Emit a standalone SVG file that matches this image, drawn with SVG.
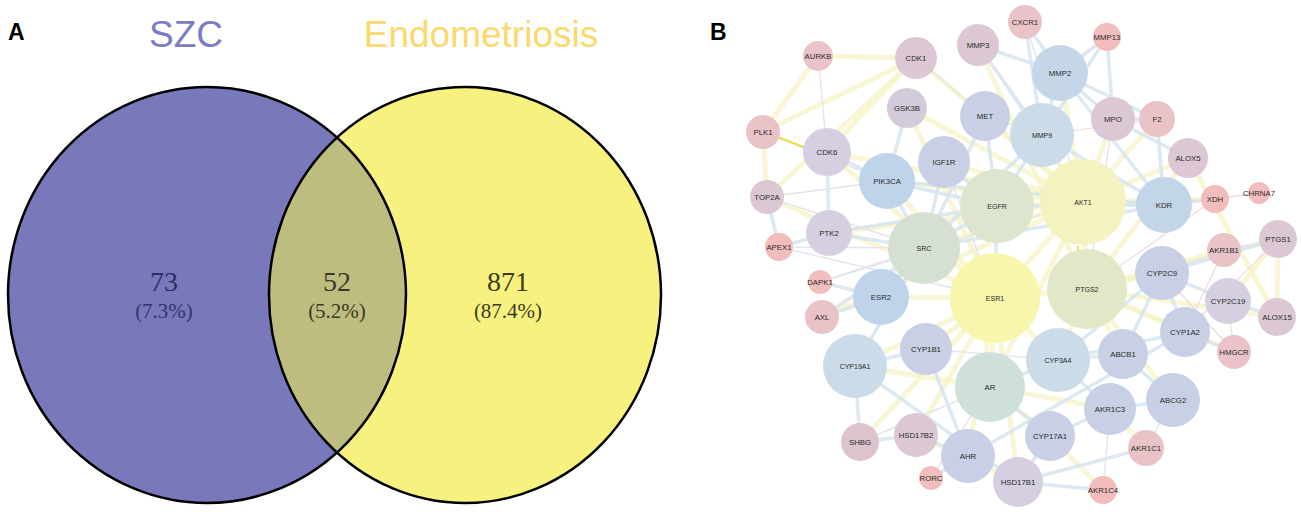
<svg xmlns="http://www.w3.org/2000/svg" width="1301" height="512" viewBox="0 0 1301 512">
<style>
.pl{font-family:"Liberation Sans",Arial,sans-serif;font-weight:bold;font-size:23px;fill:#000}
.ttl{font-family:"Liberation Sans",Arial,sans-serif;font-size:37px}
.num{font-family:"Liberation Serif","Times New Roman",serif;font-size:28px;text-anchor:middle}
.pct{font-family:"Liberation Serif","Times New Roman",serif;font-size:21px;text-anchor:middle}
.ey{stroke:#f6f3c6;stroke-width:5;opacity:.75;fill:none}
.eb{stroke:#d3e3f0;stroke-width:3.5;opacity:.8;fill:none}
.eg{stroke:#e4e4ec;stroke-width:1.4;fill:none}
.ep{stroke:#f2d9dd;stroke-width:1.2;fill:none}
.nl{font-family:"Liberation Sans",Arial,sans-serif;font-size:7.8px;fill:#2a2a2a;text-anchor:middle}
.hl{font-size:7px}
.pk{fill:#eac3c8}.pk2{fill:#f2bdbd}.mv{fill:#dcc8d4}.gp{fill:#d5cfe1}.bg{fill:#c9cfe4}
.bl{fill:#bfd4eb}.lb{fill:#cbdce8}
</style>
<rect width="1301" height="512" fill="#fff"/>
<!-- Panel A -->
<g id="panelA">
<text class="pl" x="8" y="40">A</text>
<text class="ttl" x="186" y="47" text-anchor="middle" fill="#7b7bc6">SZC</text>
<text class="ttl" x="481" y="47" text-anchor="middle" fill="#fbd96c">Endometriosis</text>
<defs>
<clipPath id="clipL"><ellipse cx="207" cy="295" rx="199" ry="208"/></clipPath>
</defs>
<g id="set-SZC"><ellipse cx="207" cy="295" rx="199" ry="208" fill="#7878bb"/></g>
<g id="set-Endometriosis"><ellipse cx="465" cy="295" rx="196" ry="208" fill="#f7f27f"/></g>
<g id="set-overlap"><ellipse cx="465" cy="295" rx="196" ry="208" fill="#bdbd7f" clip-path="url(#clipL)"/></g>
<ellipse cx="207" cy="295" rx="199" ry="208" fill="none" stroke="#000" stroke-width="2.5"/>
<ellipse cx="465" cy="295" rx="196" ry="208" fill="none" stroke="#000" stroke-width="2.5"/>
<text class="num" x="164" y="291" fill="#2c2c66">73</text>
<text class="pct" x="164" y="318" fill="#34346c">(7.3%)</text>
<text class="num" x="337" y="291" fill="#3a3a26">52</text>
<text class="pct" x="337" y="318" fill="#3a3a26">(5.2%)</text>
<text class="num" x="508" y="291" fill="#3c3a1e">871</text>
<text class="pct" x="508" y="318" fill="#3c3a1e">(87.4%)</text>
</g>
<!-- Panel B -->
<text class="pl" x="710" y="40">B</text>
<g id="connectors">
<g id="edges-yellow">
<line class="ey" x1="818" y1="56" x2="916" y2="58"/>
<line class="ey" x1="818" y1="56" x2="763" y2="132"/>
<line class="ey" x1="763" y1="132" x2="916" y2="58"/>
<line class="ey" x1="916" y1="58" x2="827" y2="152"/>
<line class="ey" x1="763" y1="132" x2="767" y2="197"/>
<line class="ey" x1="767" y1="197" x2="916" y2="58"/>
<line class="ey" x1="827" y1="152" x2="995" y2="298"/>
<line class="ey" x1="827" y1="152" x2="1083" y2="202"/>
<line class="ey" x1="907" y1="108" x2="1083" y2="202"/>
<line class="ey" x1="907" y1="108" x2="995" y2="298"/>
<line class="ey" x1="887" y1="181" x2="1083" y2="202"/>
<line class="ey" x1="887" y1="181" x2="995" y2="298"/>
<line class="ey" x1="997" y1="206" x2="1083" y2="202"/>
<line class="ey" x1="924" y1="248" x2="1083" y2="202"/>
<line class="ey" x1="995" y1="298" x2="1083" y2="202"/>
<line class="ey" x1="995" y1="298" x2="1087" y2="289"/>
<line class="ey" x1="995" y1="298" x2="990" y2="387"/>
<line class="ey" x1="995" y1="298" x2="881" y2="297"/>
<line class="ey" x1="990" y1="387" x2="1083" y2="202"/>
<line class="ey" x1="855" y1="366" x2="995" y2="298"/>
<line class="ey" x1="855" y1="366" x2="990" y2="387"/>
<line class="ey" x1="1087" y1="289" x2="1083" y2="202"/>
<line class="ey" x1="1278" y1="239" x2="1277" y2="317"/>
<line class="ey" x1="1278" y1="239" x2="1087" y2="289"/>
<line class="ey" x1="1188" y1="158" x2="1087" y2="289"/>
<line class="ey" x1="1188" y1="158" x2="1083" y2="202"/>
<line class="ey" x1="1224" y1="250" x2="1087" y2="289"/>
<line class="ey" x1="1162" y1="273" x2="1087" y2="289"/>
<line class="ey" x1="1215" y1="199" x2="1083" y2="202"/>
<line class="ey" x1="1277" y1="317" x2="1087" y2="289"/>
<line class="ey" x1="1277" y1="317" x2="1188" y2="158"/>
<line class="ey" x1="1228" y1="301" x2="1278" y2="239"/>
<line class="ey" x1="916" y1="435" x2="995" y2="298"/>
<line class="ey" x1="860" y1="442" x2="995" y2="298"/>
<line class="ey" x1="1050" y1="436" x2="990" y2="387"/>
<line class="ey" x1="1018" y1="482" x2="995" y2="298"/>
<line class="ey" x1="1110" y1="409" x2="990" y2="387"/>
<line class="ey" x1="968" y1="456" x2="995" y2="298"/>
<line class="ey" x1="1042" y1="135" x2="1083" y2="202"/>
<line class="ey" x1="1060" y1="73" x2="1083" y2="202"/>
<line class="ey" x1="985" y1="116" x2="1083" y2="202"/>
<line class="ey" x1="944" y1="162" x2="1083" y2="202"/>
<line class="ey" x1="767" y1="197" x2="995" y2="298"/>
<line class="ey" x1="829" y1="233" x2="1083" y2="202"/>
<line class="ey" x1="916" y1="58" x2="1083" y2="202"/>
<line class="ey" x1="978" y1="45" x2="1087" y2="289"/>
<line class="ey" x1="1113" y1="119" x2="1083" y2="202"/>
<line class="ey" x1="1157" y1="119" x2="1083" y2="202"/>
<line class="ey" x1="1164" y1="205" x2="1083" y2="202"/>
<line class="ey" x1="926" y1="349" x2="995" y2="298"/>
<line class="ey" x1="1058" y1="360" x2="995" y2="298"/>
<line class="ey" x1="1146" y1="448" x2="1110" y2="409"/>
<line class="ey" x1="1123" y1="354" x2="1087" y2="289"/>
<line class="ey" x1="1058" y1="360" x2="1087" y2="289"/>
<line class="ey" x1="1103" y1="490" x2="1050" y2="436"/>
<line class="ey" x1="916" y1="435" x2="1018" y2="482"/>
<line class="ey" x1="1185" y1="332" x2="1087" y2="289"/>
<line class="ey" x1="1234" y1="352" x2="1087" y2="289"/>
<line class="ey" x1="822" y1="317" x2="1083" y2="202"/>
<line class="ey" x1="1173" y1="400" x2="1087" y2="289"/>
</g>
<g id="edges-blue">
<line class="eb" x1="1107" y1="37" x2="1060" y2="73"/>
<line class="eb" x1="1107" y1="37" x2="1042" y2="135"/>
<line class="eb" x1="1107" y1="37" x2="1113" y2="119"/>
<line class="eb" x1="1025" y1="22" x2="1060" y2="73"/>
<line class="eb" x1="1025" y1="22" x2="1042" y2="135"/>
<line class="eb" x1="978" y1="45" x2="1042" y2="135"/>
<line class="eb" x1="978" y1="45" x2="1060" y2="73"/>
<line class="eb" x1="1060" y1="73" x2="1042" y2="135"/>
<line class="eb" x1="1060" y1="73" x2="1113" y2="119"/>
<line class="eb" x1="1060" y1="73" x2="1164" y2="205"/>
<line class="eb" x1="1060" y1="73" x2="1157" y2="119"/>
<line class="eb" x1="1042" y1="135" x2="997" y2="206"/>
<line class="eb" x1="1042" y1="135" x2="924" y2="248"/>
<line class="eb" x1="985" y1="116" x2="997" y2="206"/>
<line class="eb" x1="985" y1="116" x2="924" y2="248"/>
<line class="eb" x1="944" y1="162" x2="997" y2="206"/>
<line class="eb" x1="944" y1="162" x2="924" y2="248"/>
<line class="eb" x1="887" y1="181" x2="997" y2="206"/>
<line class="eb" x1="887" y1="181" x2="924" y2="248"/>
<line class="eb" x1="887" y1="181" x2="1164" y2="205"/>
<line class="eb" x1="829" y1="233" x2="924" y2="248"/>
<line class="eb" x1="829" y1="233" x2="997" y2="206"/>
<line class="eb" x1="1164" y1="205" x2="997" y2="206"/>
<line class="eb" x1="1164" y1="205" x2="924" y2="248"/>
<line class="eb" x1="881" y1="297" x2="924" y2="248"/>
<line class="eb" x1="822" y1="317" x2="924" y2="248"/>
<line class="eb" x1="822" y1="317" x2="881" y2="297"/>
<line class="eb" x1="767" y1="197" x2="779" y2="247"/>
<line class="eb" x1="779" y1="247" x2="829" y2="233"/>
<line class="eb" x1="1162" y1="273" x2="1058" y2="360"/>
<line class="eb" x1="1185" y1="332" x2="1058" y2="360"/>
<line class="eb" x1="1185" y1="332" x2="1162" y2="273"/>
<line class="eb" x1="1228" y1="301" x2="1162" y2="273"/>
<line class="eb" x1="1185" y1="332" x2="1234" y2="352"/>
<line class="eb" x1="1123" y1="354" x2="1173" y2="400"/>
<line class="eb" x1="1123" y1="354" x2="1058" y2="360"/>
<line class="eb" x1="855" y1="366" x2="860" y2="442"/>
<line class="eb" x1="855" y1="366" x2="926" y2="349"/>
<line class="eb" x1="926" y1="349" x2="968" y2="456"/>
<line class="eb" x1="1050" y1="436" x2="1018" y2="482"/>
<line class="eb" x1="1018" y1="482" x2="1103" y2="490"/>
<line class="eb" x1="1018" y1="482" x2="1146" y2="448"/>
<line class="eb" x1="1018" y1="482" x2="855" y2="366"/>
<line class="eb" x1="916" y1="435" x2="860" y2="442"/>
<line class="eb" x1="916" y1="435" x2="968" y2="456"/>
<line class="eb" x1="968" y1="456" x2="1185" y2="332"/>
<line class="eb" x1="1110" y1="409" x2="1173" y2="400"/>
<line class="eb" x1="1110" y1="409" x2="1050" y2="436"/>
<line class="eb" x1="990" y1="387" x2="1050" y2="436"/>
<line class="eb" x1="990" y1="387" x2="1058" y2="360"/>
<line class="eb" x1="1058" y1="360" x2="1110" y2="409"/>
<line class="eb" x1="997" y1="206" x2="924" y2="248"/>
<line class="eb" x1="997" y1="206" x2="995" y2="298"/>
<line class="eb" x1="820" y1="282" x2="881" y2="297"/>
<line class="eb" x1="827" y1="152" x2="887" y2="181"/>
<line class="eb" x1="827" y1="152" x2="829" y2="233"/>
<line class="eb" x1="907" y1="108" x2="887" y2="181"/>
<line class="eb" x1="1188" y1="158" x2="1113" y2="119"/>
<line class="eb" x1="1157" y1="119" x2="1113" y2="119"/>
<line class="eb" x1="1157" y1="119" x2="1164" y2="205"/>
<line class="eb" x1="1215" y1="199" x2="1164" y2="205"/>
<line class="eb" x1="1278" y1="239" x2="1162" y2="273"/>
<line class="eb" x1="1228" y1="301" x2="1277" y2="317"/>
<line class="eb" x1="855" y1="366" x2="924" y2="248"/>
<line class="eb" x1="1162" y1="273" x2="1123" y2="354"/>
<line class="eb" x1="1042" y1="135" x2="1164" y2="205"/>
<line class="eb" x1="968" y1="456" x2="931" y2="478"/>
</g>
<g id="edges-grey">
<line class="eg" x1="818" y1="56" x2="827" y2="152"/>
<line class="eg" x1="763" y1="132" x2="887" y2="181"/>
<line class="eg" x1="767" y1="197" x2="887" y2="181"/>
<line class="eg" x1="767" y1="197" x2="924" y2="248"/>
<line class="eg" x1="779" y1="247" x2="924" y2="248"/>
<line class="eg" x1="779" y1="247" x2="995" y2="298"/>
<line class="eg" x1="820" y1="282" x2="924" y2="248"/>
<line class="eg" x1="820" y1="282" x2="1083" y2="202"/>
<line class="eg" x1="822" y1="317" x2="997" y2="206"/>
<line class="eg" x1="916" y1="58" x2="985" y2="116"/>
<line class="eg" x1="978" y1="45" x2="1083" y2="202"/>
<line class="eg" x1="1025" y1="22" x2="1083" y2="202"/>
<line class="eg" x1="1259" y1="193" x2="1215" y2="199"/>
<line class="eg" x1="1224" y1="250" x2="1162" y2="273"/>
<line class="eg" x1="1224" y1="250" x2="1278" y2="239"/>
<line class="eg" x1="1234" y1="352" x2="1228" y2="301"/>
<line class="eg" x1="931" y1="478" x2="990" y2="387"/>
<line class="eg" x1="1103" y1="490" x2="1110" y2="409"/>
<line class="eg" x1="1146" y1="448" x2="1173" y2="400"/>
<line class="eg" x1="860" y1="442" x2="990" y2="387"/>
<line class="eg" x1="926" y1="349" x2="1058" y2="360"/>
<line class="eg" x1="1113" y1="119" x2="1087" y2="289"/>
<line class="eg" x1="944" y1="162" x2="995" y2="298"/>
<line class="eg" x1="985" y1="116" x2="1042" y2="135"/>
</g>
<g id="edges-pink">
<line class="ep" x1="1215" y1="199" x2="1087" y2="289"/>
<line class="ep" x1="1224" y1="250" x2="1185" y2="332"/>
<line class="ep" x1="1278" y1="239" x2="1185" y2="332"/>
<line class="ep" x1="1234" y1="352" x2="1162" y2="273"/>
<line class="ep" x1="1157" y1="119" x2="1042" y2="135"/>
<line class="ep" x1="1259" y1="193" x2="1164" y2="205"/>
</g>
<line id="edge-PLK1-CDK6" x1="778" y1="137" x2="804" y2="147" stroke="#e9e020" stroke-width="1.6"/>
<line x1="1078" y1="246" x2="1078" y2="252" stroke="#e9e020" stroke-width="1.6"/>
</g>
<g id="nodes">
<g id="n-AURKB"><circle cx="818" cy="56" r="15" class="pk"/><text class="nl" x="818" y="59">AURKB</text></g>
<g id="n-CDK1"><circle cx="916" cy="58" r="21" class="mv"/><text class="nl" x="916" y="61">CDK1</text></g>
<g id="n-MMP3"><circle cx="978" cy="45" r="21" class="mv"/><text class="nl" x="978" y="48">MMP3</text></g>
<g id="n-CXCR1"><circle cx="1025" cy="22" r="17" class="pk"/><text class="nl" x="1025" y="25">CXCR1</text></g>
<g id="n-MMP13"><circle cx="1107" cy="37" r="14" class="pk2"/><text class="nl" x="1107" y="40">MMP13</text></g>
<g id="n-MMP2"><circle cx="1060" cy="73" r="28" fill="#c4d6e7"/><text class="nl" x="1060" y="76">MMP2</text></g>
<g id="n-GSK3B"><circle cx="907" cy="108" r="20" fill="#d3cbd9"/><text class="nl" x="907" y="111">GSK3B</text></g>
<g id="n-MET"><circle cx="985" cy="116" r="25" class="bg"/><text class="nl" x="985" y="119">MET</text></g>
<g id="n-MPO"><circle cx="1113" cy="119" r="22" class="mv"/><text class="nl" x="1113" y="122">MPO</text></g>
<g id="n-F2"><circle cx="1157" cy="119" r="18" class="pk"/><text class="nl" x="1157" y="122">F2</text></g>
<g id="n-MMP9"><circle cx="1042" cy="135" r="32" class="lb"/><text class="nl hl" x="1042" y="138">MMP9</text></g>
<g id="n-PLK1"><circle cx="763" cy="132" r="17" class="pk"/><text class="nl" x="763" y="135">PLK1</text></g>
<g id="n-CDK6"><circle cx="827" cy="152" r="24" class="gp"/><text class="nl" x="827" y="155">CDK6</text></g>
<g id="n-IGF1R"><circle cx="944" cy="162" r="26" class="bg"/><text class="nl" x="944" y="165">IGF1R</text></g>
<g id="n-ALOX5"><circle cx="1188" cy="158" r="20" class="mv"/><text class="nl" x="1188" y="161">ALOX5</text></g>
<g id="n-PIK3CA"><circle cx="887" cy="181" r="28" class="bl"/><text class="nl" x="887" y="184">PIK3CA</text></g>
<g id="n-TOP2A"><circle cx="767" cy="197" r="17" class="mv"/><text class="nl" x="767" y="200">TOP2A</text></g>
<g id="n-EGFR"><circle cx="997" cy="206" r="37" fill="#dee5cf"/><text class="nl hl" x="997" y="209">EGFR</text></g>
<g id="n-AKT1"><circle cx="1083" cy="202" r="43" fill="#f4f2bf"/><text class="nl hl" x="1083" y="205">AKT1</text></g>
<g id="n-KDR"><circle cx="1164" cy="205" r="28" fill="#c3d5e8"/><text class="nl" x="1164" y="208">KDR</text></g>
<g id="n-XDH"><circle cx="1215" cy="199" r="14" class="pk2"/><text class="nl" x="1215" y="202">XDH</text></g>
<g id="n-CHRNA7"><circle cx="1259" cy="193" r="11" class="pk2"/><text class="nl" x="1259" y="196">CHRNA7</text></g>
<g id="n-PTK2"><circle cx="829" cy="233" r="23" class="gp"/><text class="nl" x="829" y="236">PTK2</text></g>
<g id="n-APEX1"><circle cx="779" cy="247" r="14" class="pk2"/><text class="nl" x="779" y="250">APEX1</text></g>
<g id="n-SRC"><circle cx="924" cy="248" r="36" fill="#d5e0d2"/><text class="nl hl" x="924" y="251">SRC</text></g>
<g id="n-PTGS1"><circle cx="1278" cy="239" r="19" class="mv"/><text class="nl" x="1278" y="242">PTGS1</text></g>
<g id="n-AKR1B1"><circle cx="1224" cy="250" r="17" class="pk"/><text class="nl" x="1224" y="253">AKR1B1</text></g>
<g id="n-CYP2C9"><circle cx="1162" cy="273" r="27" class="bg"/><text class="nl" x="1162" y="276">CYP2C9</text></g>
<g id="n-DAPK1"><circle cx="820" cy="282" r="12" class="pk2"/><text class="nl" x="820" y="285">DAPK1</text></g>
<g id="n-ESR1"><circle cx="995" cy="298" r="45" fill="#f8f5ad"/><text class="nl hl" x="995" y="301">ESR1</text></g>
<g id="n-PTGS2"><circle cx="1087" cy="289" r="40" fill="#e2e7c7"/><text class="nl hl" x="1087" y="292">PTGS2</text></g>
<g id="n-ESR2"><circle cx="881" cy="297" r="28" class="bl"/><text class="nl" x="881" y="300">ESR2</text></g>
<g id="n-CYP2C19"><circle cx="1228" cy="301" r="23" class="gp"/><text class="nl" x="1228" y="304">CYP2C19</text></g>
<g id="n-AXL"><circle cx="822" cy="317" r="17" class="pk"/><text class="nl" x="822" y="320">AXL</text></g>
<g id="n-ALOX15"><circle cx="1277" cy="317" r="19" class="mv"/><text class="nl" x="1277" y="320">ALOX15</text></g>
<g id="n-CYP1A2"><circle cx="1185" cy="332" r="25" class="bg"/><text class="nl" x="1185" y="335">CYP1A2</text></g>
<g id="n-CYP1B1"><circle cx="926" cy="349" r="26" class="bg"/><text class="nl" x="926" y="352">CYP1B1</text></g>
<g id="n-HMGCR"><circle cx="1234" cy="352" r="17" class="pk"/><text class="nl" x="1234" y="355">HMGCR</text></g>
<g id="n-CYP3A4"><circle cx="1058" cy="360" r="32" class="lb"/><text class="nl hl" x="1058" y="363">CYP3A4</text></g>
<g id="n-ABCB1"><circle cx="1123" cy="354" r="25" class="bg"/><text class="nl" x="1123" y="357">ABCB1</text></g>
<g id="n-CYP19A1"><circle cx="855" cy="366" r="32" class="lb"/><text class="nl hl" x="855" y="369">CYP19A1</text></g>
<g id="n-AR"><circle cx="990" cy="387" r="35" fill="#cfdfd9"/><text class="nl" x="990" y="390">AR</text></g>
<g id="n-ABCG2"><circle cx="1173" cy="400" r="27" class="bg"/><text class="nl" x="1173" y="403">ABCG2</text></g>
<g id="n-AKR1C3"><circle cx="1110" cy="409" r="26" class="bg"/><text class="nl" x="1110" y="412">AKR1C3</text></g>
<g id="n-CYP17A1"><circle cx="1050" cy="436" r="25" class="bg"/><text class="nl" x="1050" y="439">CYP17A1</text></g>
<g id="n-HSD17B2"><circle cx="916" cy="435" r="22" class="mv"/><text class="nl" x="916" y="438">HSD17B2</text></g>
<g id="n-SHBG"><circle cx="860" cy="442" r="19" fill="#dcc3cd"/><text class="nl" x="860" y="445">SHBG</text></g>
<g id="n-AKR1C1"><circle cx="1146" cy="448" r="18" class="pk"/><text class="nl" x="1146" y="451">AKR1C1</text></g>
<g id="n-AHR"><circle cx="968" cy="456" r="27" fill="#c8cfe6"/><text class="nl" x="968" y="459">AHR</text></g>
<g id="n-HSD17B1"><circle cx="1018" cy="482" r="25" class="gp"/><text class="nl" x="1018" y="485">HSD17B1</text></g>
<g id="n-RORC"><circle cx="931" cy="478" r="12" class="pk2"/><text class="nl" x="931" y="481">RORC</text></g>
<g id="n-AKR1C4"><circle cx="1103" cy="490" r="14" class="pk2"/><text class="nl" x="1103" y="493">AKR1C4</text></g>
</g>
</svg>
